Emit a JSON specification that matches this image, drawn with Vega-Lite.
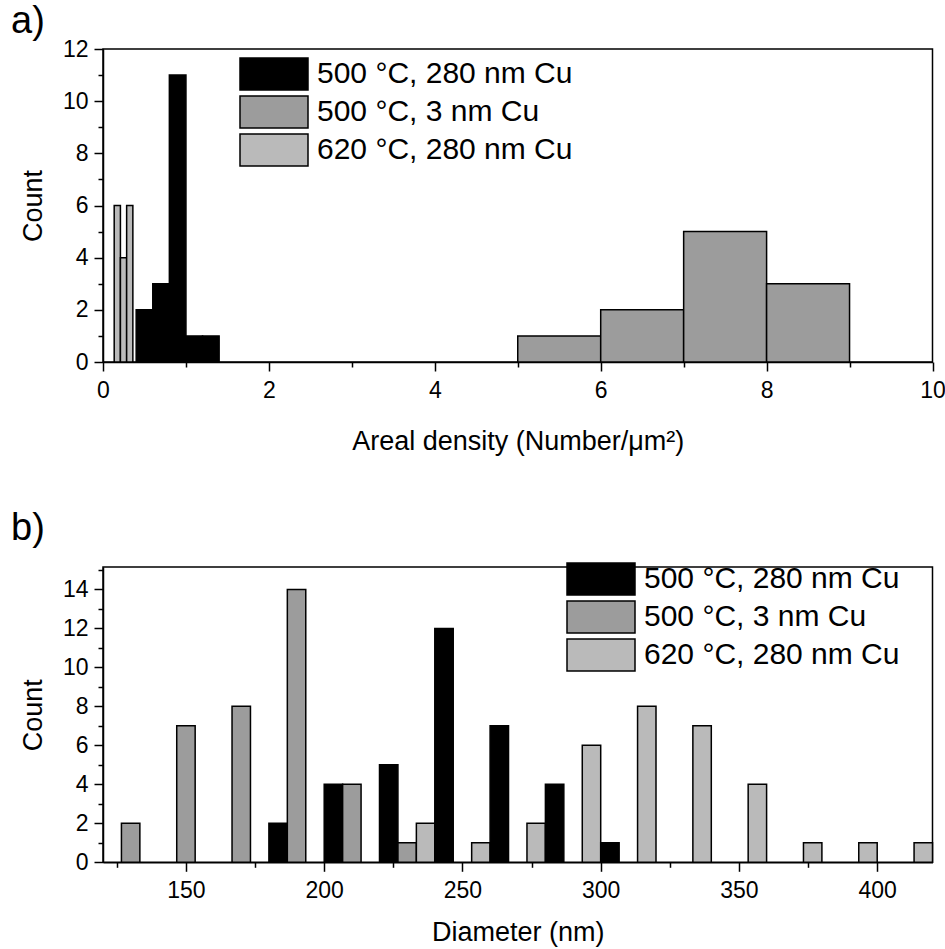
{
  "$schema": "https://vega.github.io/schema/vega-lite/v6.json",
  "padding": {"left": 10, "top": 2, "right": 0, "bottom": 0},
  "background": "white",
  "config": {
    "font": "Liberation Sans",
    "view": {"stroke": "black", "strokeWidth": 1.5},
    "axis": {
      "grid": false,
      "domainColor": "black",
      "domainWidth": 1.5,
      "tickColor": "black",
      "tickWidth": 1.5,
      "labelColor": "black",
      "labelFont": "Liberation Sans",
      "labelFontSize": 23,
      "titleFont": "Liberation Sans",
      "titleFontSize": 27,
      "titleFontWeight": "normal",
      "titleColor": "black",
      "labelFlush": false,
      "labelOverlap": false
    },
    "legend": {
      "symbolType": "M-2.125,-1H2.125V1H-2.125Z",
      "symbolSize": 1024,
      "symbolStrokeColor": "black",
      "symbolStrokeWidth": 1.5,
      "symbolOpacity": 1,
      "labelFont": "Liberation Sans",
      "labelFontSize": 30,
      "labelColor": "black",
      "labelOffset": 26,
      "rowPadding": 0,
      "padding": 0,
      "labelLimit": 400
    },
    "title": {"font": "Liberation Sans", "fontSize": 38, "fontWeight": "normal", "color": "black", "anchor": "start", "frame": "group"}
  },
  "datasets": {
    "areal": [
      {"series": "620 °C, 280 nm Cu", "lo": 0.135, "hi": 0.21, "count": 6},
      {"series": "620 °C, 280 nm Cu", "lo": 0.21, "hi": 0.285, "count": 4},
      {"series": "620 °C, 280 nm Cu", "lo": 0.285, "hi": 0.36, "count": 6},
      {"series": "500 °C, 280 nm Cu", "lo": 0.4, "hi": 0.6, "count": 2},
      {"series": "500 °C, 280 nm Cu", "lo": 0.6, "hi": 0.8, "count": 3},
      {"series": "500 °C, 280 nm Cu", "lo": 0.8, "hi": 1.0, "count": 11},
      {"series": "500 °C, 280 nm Cu", "lo": 1.0, "hi": 1.2, "count": 1},
      {"series": "500 °C, 280 nm Cu", "lo": 1.2, "hi": 1.4, "count": 1},
      {"series": "500 °C, 3 nm Cu", "lo": 5, "hi": 6, "count": 1},
      {"series": "500 °C, 3 nm Cu", "lo": 6, "hi": 7, "count": 2},
      {"series": "500 °C, 3 nm Cu", "lo": 7, "hi": 8, "count": 5},
      {"series": "500 °C, 3 nm Cu", "lo": 8, "hi": 9, "count": 3}
    ],
    "diameter": [
      {"bin": 120, "series": "500 °C, 3 nm Cu", "count": 2},
      {"bin": 140, "series": "500 °C, 3 nm Cu", "count": 7},
      {"bin": 160, "series": "500 °C, 3 nm Cu", "count": 8},
      {"bin": 180, "series": "500 °C, 280 nm Cu", "count": 2},
      {"bin": 180, "series": "500 °C, 3 nm Cu", "count": 14},
      {"bin": 200, "series": "500 °C, 280 nm Cu", "count": 4},
      {"bin": 200, "series": "500 °C, 3 nm Cu", "count": 4},
      {"bin": 220, "series": "500 °C, 280 nm Cu", "count": 5},
      {"bin": 220, "series": "500 °C, 3 nm Cu", "count": 1},
      {"bin": 220, "series": "620 °C, 280 nm Cu", "count": 2},
      {"bin": 240, "series": "500 °C, 280 nm Cu", "count": 12},
      {"bin": 240, "series": "620 °C, 280 nm Cu", "count": 1},
      {"bin": 260, "series": "500 °C, 280 nm Cu", "count": 7},
      {"bin": 260, "series": "620 °C, 280 nm Cu", "count": 2},
      {"bin": 280, "series": "500 °C, 280 nm Cu", "count": 4},
      {"bin": 280, "series": "620 °C, 280 nm Cu", "count": 6},
      {"bin": 300, "series": "500 °C, 280 nm Cu", "count": 1},
      {"bin": 300, "series": "620 °C, 280 nm Cu", "count": 8},
      {"bin": 320, "series": "620 °C, 280 nm Cu", "count": 7},
      {"bin": 340, "series": "620 °C, 280 nm Cu", "count": 4},
      {"bin": 360, "series": "620 °C, 280 nm Cu", "count": 1},
      {"bin": 380, "series": "620 °C, 280 nm Cu", "count": 1},
      {"bin": 400, "series": "620 °C, 280 nm Cu", "count": 1}
    ]
  },
  "vconcat": [
    {
      "width": 829.5,
      "height": 313,
      "title": {"text": "a)", "dx": -92, "offset": -3},
      "data": {"name": "areal"},
      "layer": [
        {
          "mark": {"type": "bar", "stroke": "black", "strokeWidth": 1.5},
          "encoding": {
            "x": {"field": "lo", "type": "quantitative", "scale": {"domain": [0, 10], "nice": false, "zero": false},
                  "axis": {"values": [0, 2, 4, 6, 8, 10], "format": "d", "title": "Areal density (Number/μm²)", "tickSize": 9, "labelPadding": 8, "titlePadding": 26}},
            "x2": {"field": "hi"},
            "y": {"field": "count", "type": "quantitative", "scale": {"domain": [0, 12], "nice": false},
                  "axis": {"values": [0, 2, 4, 6, 8, 10, 12], "title": "Count", "tickSize": 9, "labelPadding": 6, "titlePadding": 15}},
            "y2": {"datum": 0},
            "fill": {"field": "series", "type": "nominal",
                     "scale": {"domain": ["500 °C, 280 nm Cu", "500 °C, 3 nm Cu", "620 °C, 280 nm Cu"], "range": ["#000000", "#9c9c9c", "#bababa"]},
                     "legend": {"orient": "none", "legendX": 154, "legendY": 8, "title": null}}
          }
        },
        {
          "mark": {"type": "point", "opacity": 0},
          "encoding": {
            "x": {"field": "lo", "type": "quantitative", "scale": {"domain": [0, 10], "nice": false, "zero": false},
                  "axis": {"orient": "bottom", "values": [1, 3, 5, 7, 9], "labels": false, "domain": false, "tickSize": 5, "title": null}},
            "y": {"field": "count", "type": "quantitative", "scale": {"domain": [0, 12], "nice": false},
                  "axis": {"orient": "left", "values": [1, 3, 5, 7, 9, 11], "labels": false, "domain": false, "tickSize": 5, "title": null}}
          }
        }
      ],
      "resolve": {"axis": {"x": "independent", "y": "independent"}}
    },
    {
      "width": 829.5,
      "height": 295.3,
      "title": {"text": "b)", "dx": -92, "offset": 14},
      "data": {"name": "diameter"},
      "layer": [
        {
          "mark": {"type": "bar", "stroke": "black", "strokeWidth": 1.5},
          "encoding": {
            "x": {"field": "bin", "type": "ordinal",
                  "scale": {"type": "band", "domain": [120, 140, 160, 180, 200, 220, 240, 260, 280, 300, 320, 340, 360, 380, 400], "paddingInner": 0, "paddingOuter": 0},
                  "axis": null},
            "xOffset": {"field": "series", "type": "nominal",
                        "scale": {"domain": ["500 °C, 280 nm Cu", "500 °C, 3 nm Cu", "620 °C, 280 nm Cu"], "paddingInner": 0, "paddingOuter": 0}},
            "y": {"field": "count", "type": "quantitative", "scale": {"domain": [0, 15.15], "nice": false},
                  "axis": {"values": [0, 2, 4, 6, 8, 10, 12, 14], "title": "Count", "tickSize": 9, "labelPadding": 6, "titlePadding": 15}},
            "fill": {"field": "series", "type": "nominal",
                     "scale": {"domain": ["500 °C, 280 nm Cu", "500 °C, 3 nm Cu", "620 °C, 280 nm Cu"], "range": ["#000000", "#9c9c9c", "#bababa"]},
                     "legend": {"orient": "none", "legendX": 481, "legendY": -5, "title": null}}
          }
        },
        {
          "mark": {"type": "point", "opacity": 0},
          "encoding": {
            "x": {"field": "bin", "type": "quantitative", "scale": {"domain": [120, 420], "nice": false, "zero": false},
                  "axis": {"orient": "bottom", "values": [150, 200, 250, 300, 350, 400], "title": "Diameter (nm)", "tickSize": 9, "labelPadding": 8, "titlePadding": 17}},
            "y": {"field": "count", "type": "quantitative", "scale": {"domain": [0, 15.15], "nice": false},
                  "axis": {"orient": "left", "values": [1, 3, 5, 7, 9, 11, 13, 15], "labels": false, "domain": false, "tickSize": 5, "title": null}}
          }
        },
        {
          "mark": {"type": "point", "opacity": 0},
          "encoding": {
            "x": {"field": "bin", "type": "quantitative", "scale": {"domain": [120, 420], "nice": false, "zero": false},
                  "axis": {"orient": "bottom", "values": [125, 175, 225, 275, 325, 375], "labels": false, "domain": false, "tickSize": 5, "title": null}},
            "y": {"field": "count", "type": "quantitative", "scale": {"domain": [0, 15.15], "nice": false}, "axis": null}
          }
        }
      ],
      "resolve": {"scale": {"x": "independent"}, "axis": {"x": "independent", "y": "independent"}}
    }
  ],
  "spacing": 205,
  "bounds": "flush",
  "resolve": {"scale": {"fill": "independent"}}
}
